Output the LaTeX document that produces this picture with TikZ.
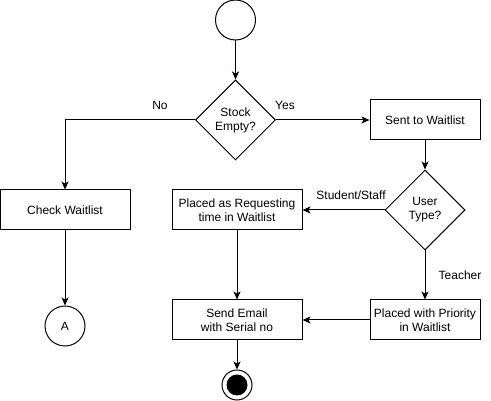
\documentclass[tikz,border=0pt]{standalone}
\usepackage{fontspec}
\setmainfont{Liberation Sans}
\usetikzlibrary{shapes.geometric,arrows.meta}
\begin{document}
\begin{tikzpicture}[x=1pt,y=-1pt,
  every node/.style={font=\fontsize{12}{14}\selectfont},
  box/.style={draw,line width=1pt,minimum width=130pt,minimum height=40pt,inner sep=0pt,align=center},
  boxs/.style={draw,line width=1pt,minimum width=110pt,minimum height=40pt,inner sep=0pt,align=center},
  dec/.style={draw,line width=1pt,diamond,minimum width=80pt,minimum height=80pt,inner sep=0pt,align=center},
  circ/.style={draw,line width=1pt,circle,minimum size=40pt,inner sep=0pt},
  lbl/.style={inner sep=0pt},
  conn/.style={line width=1pt,-{Stealth[length=8pt,width=7pt,inset=2pt]}},
  plain/.style={line width=1pt}]
\useasboundingbox (0,0) rectangle (491,401);
\node[circ] (start) at (235.5,20) {};
\node[dec] (stock) at (235.5,120) {Stock\\Empty?};
\node[box] (check) at (65,210) {Check Waitlist};
\node[circ] (a) at (65,326) {A};
\node[boxs] (sent) at (425,120) {Sent to Waitlist};
\node[dec] (user) at (425,210) {User\\Type?};
\node[box] (req) at (237,210) {Placed as Requesting\\time in Waitlist};
\node[boxs] (prio) at (425,320) {Placed with Priority\\in Waitlist};
\node[box] (email) at (237,320) {Send Email\\with Serial no};
\node[draw,line width=1pt,circle,minimum size=30pt,inner sep=0pt] (endo) at (237,385) {};
\node[fill=black,circle,minimum size=21pt,inner sep=0pt] (endi) at (237,385) {};
\coordinate (nocorner) at (65,120);
\draw[conn] (start) -- (stock);
\draw[conn] (stock.west) -- (nocorner) -- (check.north);
\draw[conn] (stock.east) -- (sent.west);
\draw[conn] (check) -- (a);
\draw[conn] (sent) -- (user);
\draw[conn] (user.west) -- (req.east);
\draw[conn] (user.south) -- (prio.north);
\draw[conn] (req) -- (email);
\draw[conn] (prio.west) -- (email.east);
\draw[conn] (email.south) -- (endo.north);
\node[lbl] (lno) at (160,105) {No};
\node[lbl] (lyes) at (285,105) {Yes};
\node[lbl] (lss) at (351,195) {Student/Staff};
\node[lbl] (lt) at (460,275) {Teacher};
\end{tikzpicture}
\end{document}
